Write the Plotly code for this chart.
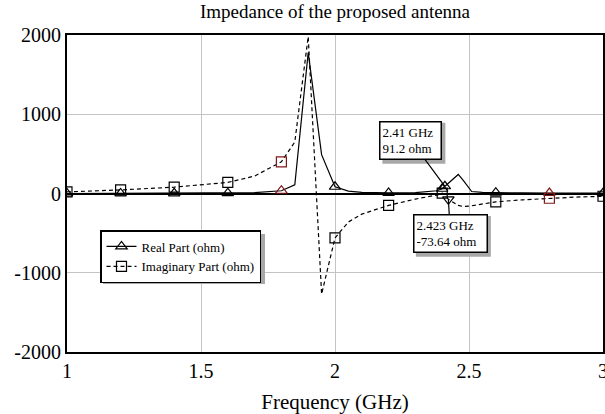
import plotly.graph_objects as go

freq = [1.0, 1.2, 1.4, 1.6, 1.7, 1.8, 1.85, 1.9, 1.95, 2.0, 2.05, 2.1, 2.2, 2.3, 2.38, 2.4, 2.41, 2.423, 2.46, 2.48, 2.51, 2.55, 2.6, 2.7, 2.8, 2.9, 3.0]
real_part = [0, 1, 2, 4, 10, 35, 110, 1780, 490, 85, 30, 15, 8, 12, 35, 60, 91.2, 128, 240, 160, 25, 14, 10, 7, 6, 5, 4]
imag_part = [20, 45, 80, 140, 220, 400, 650, 1980, -1270, -560, -360, -260, -150, -70, -20, 5, -10, -73.64, -150, -165, -155, -130, -105, -80, -60, -45, -35]

marker_freqs = [1.0, 1.2, 1.4, 1.6, 1.8, 2.0, 2.2, 2.4, 2.6, 2.8, 3.0]
red_freqs = [1.8, 2.8]
x_ticks = [1, 1.5, 2, 2.5, 3]
y_ticks = [-2000, -1000, 0, 1000, 2000]

m1_freq, m1_label = 2.41, "2.41 GHz<br>91.2 ohm"
m2_freq, m2_label = 2.423, "2.423 GHz<br>-73.64 ohm"

FONT = "Liberation Serif"
DARKRED = "#801818"
SHADOW = "#a8a8a8"


def colors():
    out = []
    for f in freq:
        if any(abs(f - r) < 1e-9 for r in red_freqs):
            out.append(DARKRED)
        elif any(abs(f - m) < 1e-9 for m in marker_freqs):
            out.append("black")
        else:
            out.append("rgba(0,0,0,0)")
    return out


mc = colors()
fig = go.Figure()
fig.add_trace(go.Scatter(
    x=freq, y=real_part, mode="lines+markers", name="Real Part (ohm)",
    line=dict(color="black", width=1.2),
    marker=dict(symbol="triangle-up-open", size=10, color=mc, line=dict(width=1.2)),
))
fig.add_trace(go.Scatter(
    x=freq, y=imag_part, mode="lines+markers", name="Imaginary Part (ohm)",
    line=dict(color="black", width=1.2, dash="4px,3px"),
    marker=dict(symbol="square-open", size=10, color=mc, line=dict(width=1.2)),
))

i1 = freq.index(m1_freq)
i2 = freq.index(m2_freq)
fig.add_trace(go.Scatter(x=[m1_freq], y=[real_part[i1]], mode="markers", showlegend=False,
                         marker=dict(symbol="triangle-up-open", size=10, color="black", line=dict(width=1.2))))
fig.add_trace(go.Scatter(x=[m2_freq], y=[imag_part[i2]], mode="markers", showlegend=False,
                         marker=dict(symbol="triangle-down-open", size=10, color="black", line=dict(width=1.2))))

# annotation boxes: (x, y, text, ax, ay, text width)
ann_specs = [(m1_freq, real_part[i1], m1_label, -34, -46, 56),
             (m2_freq, imag_part[i2], m2_label, 2, 34, 68)]
PAD, BW, FS = 2, 1.5, 13
BOX_H = 2 * 1.3 * FS + 2 * PAD + 2 * BW

anns = []
shapes = []
for (fx, fy, txt, ax, ay, tw) in ann_specs:
    anns.append(dict(x=fx, y=fy, xref="x", yref="y", text=txt, showarrow=True, ax=ax, ay=ay,
                     arrowcolor="black", arrowhead=0, arrowwidth=1.2, width=tw,
                     font=dict(family=FONT, size=FS, color="black"), align="left",
                     bgcolor="white", bordercolor="black", borderwidth=BW, borderpad=PAD))
    bw = tw + 2 * PAD + 2 * BW
    shapes.append(dict(type="rect", xref="x", yref="y", xsizemode="pixel", ysizemode="pixel",
                       xanchor=fx, yanchor=fy,
                       x0=ax - bw / 2 + 3, x1=ax + bw / 2 + 3,
                       y0=-ay - BOX_H / 2 - 3, y1=-ay + BOX_H / 2 - 3,
                       fillcolor=SHADOW, line=dict(width=0), layer="above"))

W, H = 605, 414
L, R, T, B = 67, 2, 35, 62
pw, ph = W - L - R, H - T - B

shapes.append(dict(type="rect", xref="paper", yref="paper",
                   x0=(103 - L) / pw, x1=(265 - L) / pw,
                   y0=(H - B - 284) / ph, y1=(H - B - 234) / ph,
                   fillcolor=SHADOW, line=dict(width=0), layer="above"))

fig.update_layout(
    width=W, height=H,
    margin=dict(l=L, r=R, t=T, b=B, autoexpand=False),
    paper_bgcolor="white", plot_bgcolor="white",
    font=dict(family=FONT, size=20, color="black"),
    title=dict(text="Impedance of the proposed antenna", x=(L + pw / 2) / W, xanchor="center",
               y=1 - 5 / H, yanchor="top", yref="container", font=dict(family=FONT, size=19)),
    showlegend=True,
    legend=dict(x=(100 - L) / pw, y=(H - B - 230) / ph, xanchor="left", yanchor="top",
                bgcolor="white", bordercolor="black", borderwidth=1.5, itemwidth=30,
                font=dict(family=FONT, size=13), tracegroupgap=0),
    annotations=anns,
    shapes=shapes,
)
fig.update_xaxes(range=[1, 3], tickvals=x_ticks, ticktext=[str(v) for v in x_ticks],
                 tickfont=dict(family=FONT, size=20, color="black"), ticklabeloverflow="allow",
                 showgrid=True, gridcolor="#c4c4c4", gridwidth=1, automargin=False,
                 showline=True, linecolor="black", linewidth=2, mirror=True,
                 ticks="", zeroline=False,
                 title=dict(text="Frequency (GHz)", font=dict(family=FONT, size=21), standoff=15))
fig.update_yaxes(range=[-2000, 2000], tickvals=y_ticks, ticktext=[str(v) for v in y_ticks],
                 tickfont=dict(family=FONT, size=20, color="black"),
                 showgrid=True, gridcolor="#c4c4c4", gridwidth=1, automargin=False,
                 showline=True, linecolor="black", linewidth=2, mirror=True,
                 ticks="", zeroline=True, zerolinecolor="black", zerolinewidth=1.8)

fig.write_html("out.html", config={"displayModeBar": False},
               post_script="document.body.style.margin='0';")
